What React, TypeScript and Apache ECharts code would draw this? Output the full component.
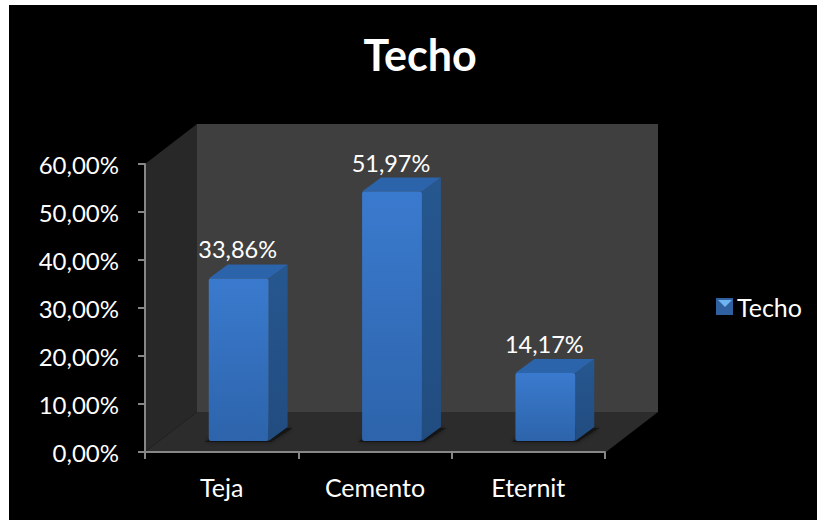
import React, { useEffect, useRef } from "react";
import * as echarts from "echarts";

const titleText = "Techo";
const seriesName = "Techo";
const categories = ["Teja", "Cemento", "Eternit"];
const values = [33.86, 51.97, 14.17];
const yTicks = { min: 0, max: 60, interval: 10 };
const FONT = "Lato, Carlito, sans-serif";
const DEPTH_X = 52;
const DEPTH_Y = 40;
const BAR_DX = 19;
const BAR_DY = 14;

const fmt = (v: number, d = 2) => v.toFixed(d).replace(".", ",") + "%";
const vGrad = (a: string, b: string) =>
  new echarts.graphic.LinearGradient(0, 0, 0, 1, [
    { offset: 0, color: a },
    { offset: 1, color: b },
  ]);

function renderWalls(params: any) {
  const { x, y, width, height } = params.coordSys;
  const b = y + height;
  const r = x + width;
  return {
    type: "group",
    children: [
      {
        type: "polygon",
        shape: { points: [[x, y], [x + DEPTH_X, y - DEPTH_Y], [x + DEPTH_X, b - DEPTH_Y], [x, b]] },
        style: { fill: "#282828" },
      },
      {
        type: "rect",
        shape: { x: x + DEPTH_X, y: y - DEPTH_Y, width: width + 1, height },
        style: { fill: "#3f3f3f" },
      },
      {
        type: "polygon",
        shape: { points: [[x, b], [x + DEPTH_X, b - DEPTH_Y], [r + DEPTH_X + 1, b - DEPTH_Y], [r + 1, b]] },
        style: { fill: "#2c2c2c" },
      },
    ],
  };
}

function renderBar(_params: any, api: any) {
  const value = api.value(1);
  const top = api.coord([api.value(0), value]);
  const base = api.coord([api.value(0), 0]);
  const w = api.size([1, 0])[0] * 0.39;
  const x = top[0] + 17 - w / 2;
  const yTop = top[1] - 11;
  const yBase = base[1] - 11;
  return {
    type: "group",
    children: [
      {
        type: "polygon",
        shape: {
          points: [
            [x - 4, yBase + 1],
            [x + w + 2, yBase + 1],
            [x + w + BAR_DX + 5, yBase - BAR_DY + 1],
            [x + BAR_DX, yBase - BAR_DY],
          ],
        },
        style: { fill: "rgba(15,15,15,0.75)", shadowBlur: 5, shadowColor: "rgba(0,0,0,0.6)" },
      },
      {
        type: "polygon",
        shape: {
          points: [
            [x + w, yTop],
            [x + w + BAR_DX, yTop - BAR_DY],
            [x + w + BAR_DX, yBase - BAR_DY],
            [x + w, yBase],
          ],
        },
        style: { fill: vGrad("#26578f", "#214c80") },
      },
      {
        type: "polygon",
        shape: {
          points: [
            [x, yTop],
            [x + BAR_DX, yTop - BAR_DY],
            [x + w + BAR_DX, yTop - BAR_DY],
            [x + w, yTop],
          ],
        },
        style: { fill: "#2b64ab" },
      },
      {
        type: "rect",
        shape: { x, y: yTop, width: w, height: yBase - yTop, r: 2 },
        style: { fill: vGrad("#3a7ace", "#2d64ab") },
      },
      {
        type: "text",
        style: {
          text: fmt(value),
          x: x + w / 2 - 1,
          y: yTop - 29,
          fill: "#ffffff",
          font: `23.5px ${FONT}`,
          align: "center",
          verticalAlign: "middle",
        },
      },
    ],
  };
}

export default function App() {
  const ref = useRef<HTMLDivElement>(null);
  useEffect(() => {
    const chart = echarts.init(ref.current!, undefined, { renderer: "svg" });
    chart.setOption({
      animation: false,
      backgroundColor: "#ffffff",
      textStyle: { fontFamily: FONT },
      title: {
        text: titleText,
        left: 415,
        top: 28,
        textAlign: "center",
        textStyle: { color: "#ffffff", fontFamily: FONT, fontSize: 43, fontWeight: "bold" },
      },
      legend: {
        data: [{ name: seriesName, icon: "rect", itemStyle: { color: "#2f609f" } }],
        left: 716,
        top: 294,
        padding: 0,
        itemWidth: 17,
        itemHeight: 17,
        itemGap: 0,
        textStyle: { color: "#ffffff", fontFamily: FONT, fontSize: 25, padding: [0, 0, 0, -1] },
      },
      graphic: [
        {
          type: "rect",
          z: -100,
          silent: true,
          shape: { x: 9, y: 5, width: 808, height: 515 },
          style: { fill: "#000000" },
        },
        {
          type: "polygon",
          z: 100,
          silent: true,
          shape: { points: [[718, 300], [732, 300], [725, 307]] },
          style: { fill: "#6fb4f2" },
        },
      ],
      grid: { left: 145, top: 164, width: 460, height: 288, containLabel: false },
      xAxis: {
        type: "category",
        data: categories,
        z: 5,
        boundaryGap: true,
        axisLine: { show: true, lineStyle: { color: "#868686", width: 2 } },
        axisTick: { show: true, alignWithLabel: false, length: 7, lineStyle: { color: "#868686", width: 2 } },
        axisLabel: { color: "#ffffff", fontFamily: FONT, fontSize: 25, margin: 22 },
        splitLine: { show: false },
      },
      yAxis: {
        type: "value",
        min: yTicks.min,
        max: yTicks.max,
        interval: yTicks.interval,
        z: 5,
        axisLine: { show: true, lineStyle: { color: "#868686", width: 2 } },
        axisTick: { show: true, length: 7, lineStyle: { color: "#868686", width: 2 } },
        axisLabel: {
          color: "#ffffff",
          fontFamily: FONT,
          fontSize: 24,
          margin: 26,
          padding: [4, 0, 0, 0],
          formatter: (v: number) => fmt(v),
        },
        splitLine: { show: false },
      },
      series: [
        {
          type: "custom",
          name: "walls",
          z: 1,
          silent: true,
          data: [[0, 0]],
          encode: { x: 0, y: 1 },
          clip: false,
          renderItem: renderWalls,
        },
        {
          type: "custom",
          name: seriesName,
          z: 2,
          clip: false,
          data: values.map((v, i) => [i, v]),
          encode: { x: 0, y: 1 },
          itemStyle: { color: "#2f609f" },
          renderItem: renderBar,
        },
      ],
    });
    return () => chart.dispose();
  }, []);
  return (
    <div
      ref={ref}
      style={{ position: "fixed", left: 0, top: 0, width: 817, height: 520 }}
    />
  );
}
